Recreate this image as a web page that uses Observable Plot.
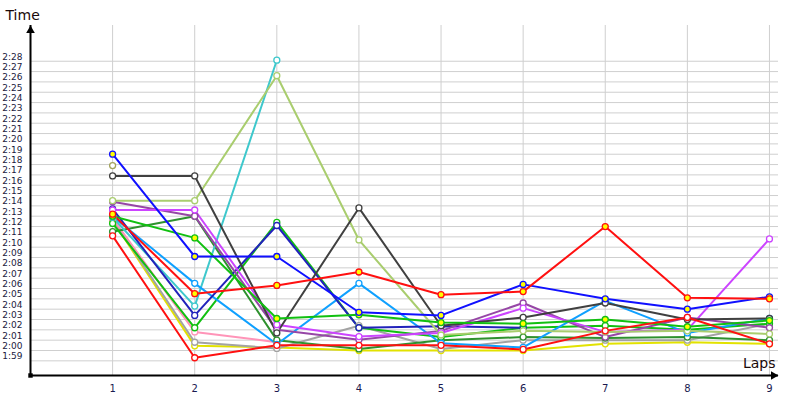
<!DOCTYPE html>
<html>
<head>
<meta charset="utf-8">
<script src="https://cdn.jsdelivr.net/npm/d3@7"></script>
<script src="https://cdn.jsdelivr.net/npm/@observablehq/plot@0.6"></script>
<style>
  html, body { margin: 0; padding: 0; background: #ffffff; }
  #chart { width: 800px; height: 400px; }
</style>
</head>
<body>
<div id="chart"></div>
<script>
// ---- Data (lap times, m:ss.s) ----
const laps = [1, 2, 3, 4, 5, 6, 7, 8, 9];
const timeTicks = ["1:59","2:00","2:01","2:02","2:03","2:04","2:05","2:06","2:07","2:08","2:09",
  "2:10","2:11","2:12","2:13","2:14","2:15","2:16","2:17","2:18","2:19","2:20","2:21","2:22",
  "2:23","2:24","2:25","2:26","2:27","2:28"];

const seriesNames = ["olive","yellow","grey","pink","darkGreen","greenW","cyan","lightBlue","navy",
  "purple","magenta","lightGreen","darkGrey","greenY","redW","blueY","redY"];
const seriesColors = ["#a3a35c","#e2e200","#a3a3a3","#ff94b8","#2e912e","#11c011","#3ec8cc","#0fa0ff","#2222bb",
  "#9646a6","#cc44ff","#a9cd6e","#404040","#11c011","#ff1010","#1010ff","#ff1010"];
const markerFills = ["white","white","white","white","white","white","white","white","white",
  "white","white","white","white","#ffff00","white","#ffff00","#ffff00"];

const olive      = ["2:17.9", null, null, null, null, null, null, null, null];
const yellow     = ["2:12.6","2:00.45","2:00.3","2:00.0","2:00.0","2:00.0","2:00.65","2:00.8","2:00.65"];
const grey       = ["2:12.7","2:00.8","2:00.2","2:02.4","2:00.15","2:01.0","2:01.0","2:01.0","2:02.6"];
const pink       = ["2:12.8","2:01.8","2:00.8", null, null, null, null, null, null];
const darkGreen  = ["2:11.5","2:13.0","2:01.0","2:00.15","2:01.0","2:01.3","2:01.2","2:01.3","2:01.0"];
const greenW     = ["2:12.3","2:02.2","2:12.4","2:02.2","2:01.3","2:02.2","2:02.4","2:02.0","2:02.6"];
const cyan       = ["2:12.9","2:04.3","2:28.1", null, null, null, null, null, null];
const lightBlue  = ["2:13.0","2:06.5","2:00.6","2:06.5","2:00.7","2:00.3","2:04.8","2:01.7","2:03.1"];
const navy       = ["2:13.7","2:03.4","2:12.1","2:02.2","2:02.35","2:02.2", null, null, null];
const purple     = ["2:14.4","2:13.0","2:02.0","2:01.05","2:01.9","2:04.6","2:01.3","2:03.2","2:02.2"];
const magenta    = ["2:13.6","2:13.6","2:02.5","2:01.35","2:01.7","2:04.1","2:01.8","2:02.0","2:10.8"];
const lightGreen = ["2:14.5","2:14.5","2:26.6","2:10.7","2:01.5","2:01.9","2:01.8","2:01.9","2:01.6"];
const darkGrey   = ["2:16.9","2:16.9","2:01.7","2:13.8","2:02.4","2:03.2","2:04.6","2:03.0","2:03.1"];
const greenY     = ["2:13.0","2:10.9","2:03.1","2:03.45","2:02.7","2:02.6","2:03.0","2:02.3","2:02.9"];
const redW       = ["2:11.1","1:59.3","2:00.5","2:00.5","2:00.5","2:00.1","2:01.9","2:03.2","2:00.65"];
const blueY      = ["2:19.0","2:09.1","2:09.1","2:03.7","2:03.4","2:06.4","2:05.0","2:04.0","2:05.2"];
const redY       = ["2:13.2","2:05.5","2:06.3","2:07.6","2:05.4","2:05.7","2:12.0","2:05.1","2:05.0"];

const seriesValues = [olive, yellow, grey, pink, darkGreen, greenW, cyan, lightBlue, navy,
  purple, magenta, lightGreen, darkGrey, greenY, redW, blueY, redY];

// ---- helpers ----
const toSec = s => { const [m, ss] = s.split(":"); return +m * 60 + +ss; };
const fmt = v => `${Math.floor(v / 60)}:${String(Math.round(v % 60)).padStart(2, "0")}`;

const rows = [];
seriesNames.forEach((name, i) => {
  seriesValues[i].forEach((t, j) => {
    if (t != null) rows.push({series: name, lap: laps[j], time: toSec(t),
      color: seriesColors[i], fill: markerFills[i], order: i});
  });
});

const tickSecs = timeTicks.map(toSec);
const xDomain = [0, 9.11];
const yDomain = [117.58, 151.46];
const axisCorner = [{x: xDomain[0], y: yDomain[0]}];
const yEnd = [{x: xDomain[0], y: yDomain[1]}];
const xEnd = [{x: xDomain[1], y: yDomain[0]}];

const chart = Plot.plot({
  width: 800,
  height: 400,
  marginLeft: 30,
  marginRight: 22,
  marginTop: 25,
  marginBottom: 25,
  style: {fontFamily: "DejaVu Sans", background: "#ffffff", color: "#1a1a40"},
  x: {domain: xDomain, axis: null},
  y: {domain: yDomain, axis: null},
  marks: [
    Plot.gridY(tickSecs, {stroke: "#cfcfcf", strokeOpacity: 1, strokeWidth: 1}),
    Plot.gridX(laps, {stroke: "#cfcfcf", strokeOpacity: 1, strokeWidth: 1}),
    Plot.axisY(tickSecs, {tickFormat: fmt, tickSize: 0, tickPadding: 8, dy: -4.5,
      fontSize: 9, fill: "#1a1a40", label: null}),
    Plot.axisX(laps, {tickSize: 0, tickPadding: 9, fontSize: 10, fill: "#1a1a50", label: null}),
    ...seriesNames.map((name, i) =>
      Plot.line(rows.filter(d => d.series === name), {
        x: "lap", y: "time", stroke: seriesColors[i], strokeWidth: 2,
        strokeLinejoin: "round", strokeLinecap: "round"
      })),
    Plot.dot(rows, {x: "lap", y: "time", r: 3, stroke: "color", fill: "fill", strokeWidth: 1.3}),
    Plot.ruleX([xDomain[0]], {stroke: "#000", strokeWidth: 2}),
    Plot.ruleY([yDomain[0]], {stroke: "#000", strokeWidth: 2}),
    Plot.dot(yEnd, {x: "x", y: "y", symbol: "triangle", r: 3.2, fill: "#000", stroke: "none", dy: 5}),
    Plot.dot(xEnd, {x: "x", y: "y", symbol: "triangle", r: 3.2, fill: "#000", stroke: "none", rotate: 90, dx: -5}),
    Plot.dot(axisCorner, {x: "x", y: "y", symbol: "square", r: 2.5, fill: "#000", stroke: "none"}),
    Plot.text(["Time"], {frameAnchor: "top-left", textAnchor: "start", lineAnchor: "middle",
      dx: -25, dy: -10, fontSize: 14, fill: "#1a0a0a"}),
    Plot.text(["Laps"], {frameAnchor: "bottom-right", textAnchor: "end", lineAnchor: "middle",
      dx: -3, dy: -12, fontSize: 14, fill: "#1a0a0a"})
  ]
});
document.getElementById("chart").appendChild(chart);
</script>
</body>
</html>
